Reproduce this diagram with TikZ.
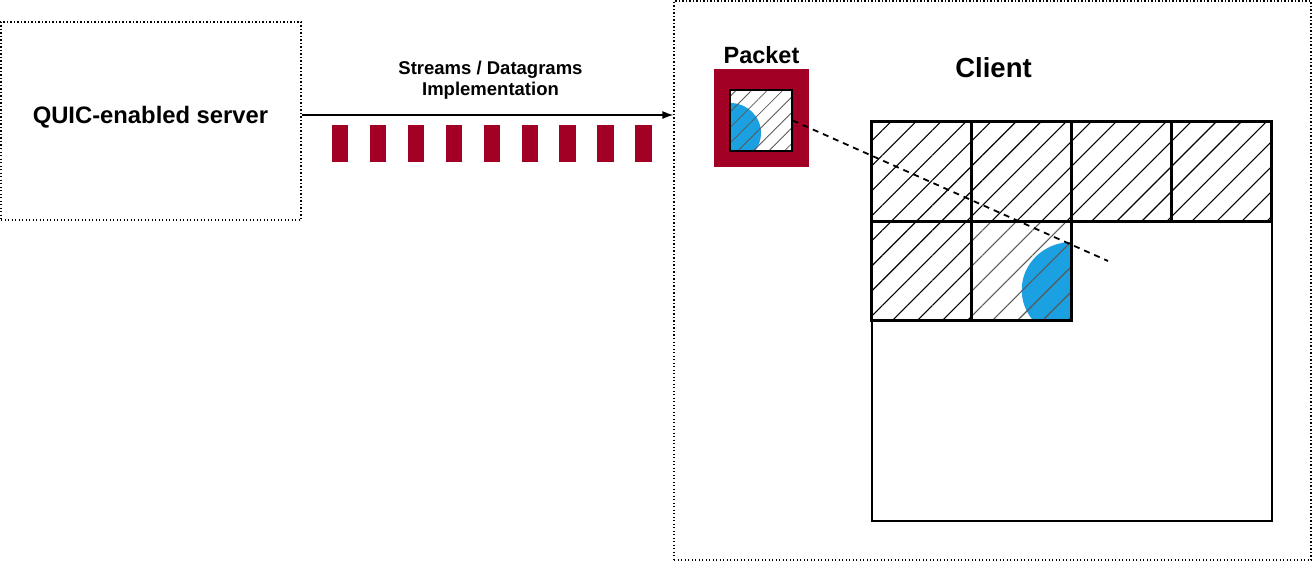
\documentclass[tikz,border=0pt]{standalone}
\usepackage{fontspec}
\setmainfont{Liberation Sans}
\usepackage{tikz}
\usetikzlibrary{arrows.meta}
\usetikzlibrary{patterns.meta}
\usetikzlibrary{positioning}

\definecolor{quicred}{HTML}{A20025}
\definecolor{quicblue}{HTML}{1BA1E2}

\tikzset{
  dotbox/.style={draw,line width=1.2pt,dash pattern=on 1.2pt off 2.3pt,inner sep=0pt},
  bar/.style={fill=quicred,draw=none},
  hatched/.style={pattern={Lines[angle=45,distance=17.7pt,line width=1.1pt]},pattern color=black},
  lighthatch/.style={pattern={Lines[angle=45,distance=17.7pt,line width=1.1pt]},pattern color=black!65},
  smallhatch/.style={pattern={Lines[angle=45,distance=11pt,line width=0.8pt]},pattern color=black!65},
  cell/.style={draw,line width=2.5pt},
  flow/.style={-{Latex[length=11pt,width=8pt]},line width=1.4pt},
  lbl/.style={font=\bfseries,inner sep=0pt,anchor=base}
}

\begin{document}
\begin{tikzpicture}[x=1pt,y=-1pt]
\useasboundingbox (0,0) rectangle (1313,562);

% server and client boxes
\node[dotbox,minimum width=300pt,minimum height=198pt] (server) at (151,121) {};
\node[lbl,font=\bfseries\fontsize{23.8}{28}\selectfont] (server text) at (150.5,123) {QUIC-enabled server};
\node[dotbox,minimum width=637pt,minimum height=559pt] (client) at (992.5,280.5) {};

% stream / datagram flow
\draw[flow] ([yshift=6pt]server.east) -- ([yshift=6pt]server.east -| client.west);
\node[lbl,align=center,font=\bfseries\fontsize{18.5}{21}\selectfont] (flow text) at (490.5,95) {Streams / Datagrams\\Implementation};
\foreach \i in {0,...,8}
  \fill[bar] (331.7+37.96*\i,125) rectangle +(16.7,37);

% labels
\node[lbl,font=\bfseries\fontsize{23.5}{28}\selectfont] (packet text) at (761.5,63) {Packet};
\node[lbl,font=\bfseries\fontsize{27.5}{32}\selectfont] (client text) at (993.5,77) {Client};

% packet
\fill[quicred] (714,69) rectangle (809,167);
\fill[white] (730,90) rectangle (792,151);
\begin{scope}
  \clip (730,90) rectangle (792,151);
  \fill[quicblue] (730,133) ellipse [x radius=31, y radius=30];
\end{scope}
\fill[smallhatch] (730,90) rectangle (792,151);
\node[draw,line width=1.5pt,minimum width=62pt,minimum height=61pt,inner sep=0pt] (pkt) at (761,120.5) {};

% client grid
\draw[line width=1.8pt] (871.7,121.7) rectangle (1271.7,521);
\foreach \c in {0,...,3}
  \fill[hatched] (871.7+100*\c,121.7) rectangle +(100,100);
\fill[hatched] (871.7,221.7) rectangle +(100,99);
\begin{scope}
  \clip (971.7,221.7) rectangle (1071.7,320.7);
  \fill[quicblue] (1071.7,290) ellipse [x radius=50, y radius=48];
\end{scope}
\fill[lighthatch] (971.7,221.7) rectangle (1071.7,320.7);
\foreach \c in {0,...,3}
  \draw[cell] (871.7+100*\c,121.7) rectangle +(100,100);
\draw[cell] (871.7,221.7) rectangle +(100,99);
\node[draw,line width=3pt,minimum width=100pt,minimum height=99pt,inner sep=0pt] (zoom cell) at (1021.7,271.2) {};

% zoom line
\coordinate (zoom end) at (1108,261);
\draw[line width=1.8pt,dash pattern=on 6pt off 5pt] (pkt.east) -- (zoom end);
\end{tikzpicture}
\end{document}
